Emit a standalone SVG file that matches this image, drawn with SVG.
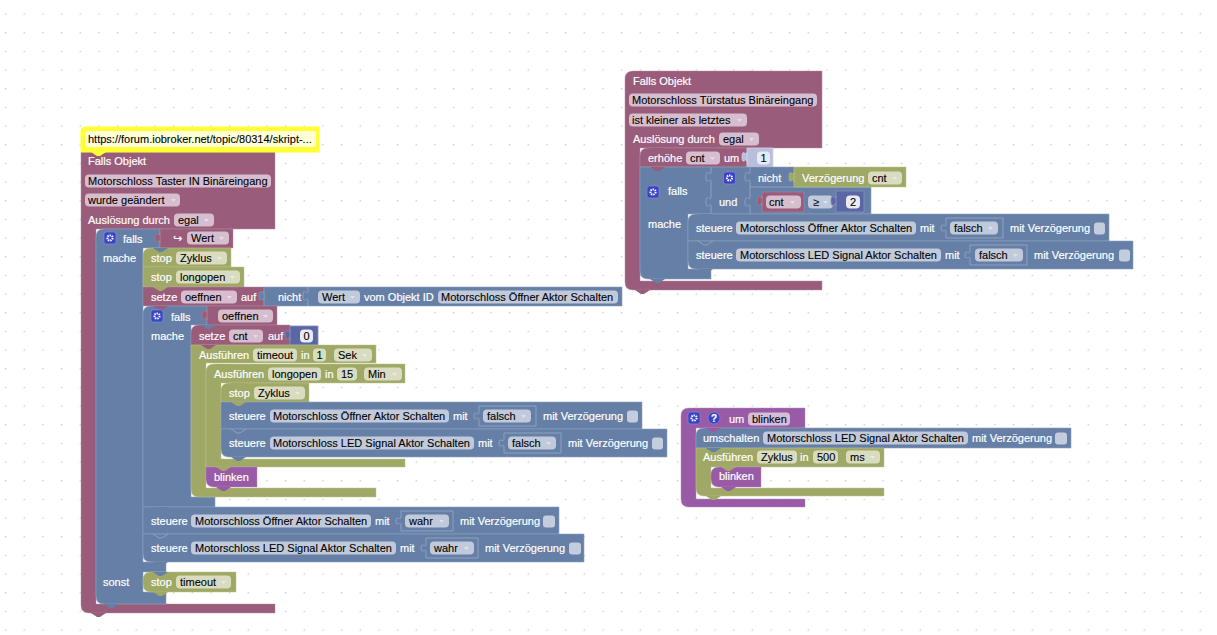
<svg xmlns="http://www.w3.org/2000/svg" width="1217" height="635" viewBox="0 0 1217 635">
<style>
text{font:11px "Liberation Sans",Arial,sans-serif;fill:#fff;stroke:#fff;stroke-width:.18}
.k{fill:#000;stroke:#000;stroke-width:.1}
.pu{fill:#995c7a;stroke:#b38ba0;stroke-width:.8;stroke-opacity:.6}
.bl{fill:#667fa6;stroke:#8ea2c0;stroke-width:.8;stroke-opacity:.75}
.ol{fill:#a0a866;stroke:#bcc28f;stroke-width:.8;stroke-opacity:.6}
.pr{fill:#995ba5;stroke:#b58cbf;stroke-width:.8;stroke-opacity:.6}
.nu{fill:#5b67a5;stroke:#858dbf;stroke-width:.8}
.nl{fill:#b9bfda;stroke:#cfd3e6;stroke-width:.8}
.bp{fill:#995c7a}.bb{fill:#667fa6}.bo{fill:#a0a866}.br{fill:#995ba5}.by{fill:#ffff33}
.fp{fill:#d6bece}.fb{fill:#c0cadb}.fo{fill:#d9dcc0}.fr{fill:#d6bedb}.fw{fill:#feffd6}.fn{fill:#e8ebf5}
.s{fill:none;stroke:#8ea2c0;stroke-width:1}
.d{fill:#fff;fill-opacity:.45}
.c{fill:#c3cddd}
.i{fill:#3b44c4;stroke:#8a90e0;stroke-width:.6}
.g{fill:none;stroke:#fff;stroke-width:2;stroke-dasharray:1.4 .9}
</style>
<defs>
<pattern id="grid" width="18.667" height="18.667" patternUnits="userSpaceOnUse" x="5" y="13.5"><rect width="1.2" height="1.2" fill="#bdbdbd"/></pattern>
<path id="b" d="M0 0l6 4h3l6-4z"/>
<path id="t" d="M0 0c0 6-5-5-5 5s5-2 5 5z"/>
<polygon id="a" points="0,0 5,0 2.5,3" class="d"/>
<g id="ic"><rect width="12" height="12" rx="2.5" class="i"/><circle cx="6" cy="6" r="2.6" class="g"/></g>
</defs>
<rect width="1217" height="635" fill="#fff"/>
<rect width="1217" height="635" fill="url(#grid)"/>

<g id="objekt-taster">
<path class="pu" d="M81 152H275V229H96V604H275V613H89Q81 613 81 605Z"/>
<text x="88" y="165">Falls Objekt</text>
<rect class="fp" x="85" y="174.500" width="186" height="13" rx="4"/><text class="k" x="88" y="185">Motorschloss Taster IN Binäreingang</text>
<rect class="fp" x="85" y="193.500" width="95" height="13" rx="4"/><text class="k" x="88" y="204">wurde geändert</text><use href="#a" x="171" y="199"/>
<text x="88" y="224">Auslösung durch</text>
<rect class="fp" x="174" y="213.500" width="40" height="13" rx="4"/><text class="k" x="178" y="224">egal</text><use href="#a" x="204" y="219"/>
</g>

<g id="kommentar">
<path d="M85 127H319V152H81V131Q81 127 85 127Z" fill="#ffff33" stroke="#ffff33"/>
<use href="#b" x="91" y="152" class="by"/>
<rect class="fw" x="85" y="131" width="231" height="16" rx="3"/>
<text class="k" x="88" y="143">https://forum.iobroker.net/topic/80314/skript-...</text>
</g>

<g id="falls-1">
<path class="bl" d="M104 229H160V248H143V562H166V572H143V592H166V604H104Q96 604 96 596V237Q96 229 104 229Z"/>
<use href="#ic" x="104" y="232"/>
<text x="123" y="243">falls</text><text x="103" y="262">mache</text><text x="103" y="586">sonst</text>
</g>
<g id="wert-1">
<path class="pu" d="M160 229H233V248H160Z"/><use href="#t" x="160" y="233" class="pu"/>
<text x="173" y="242" style="font-family:'DejaVu Sans',sans-serif">↪</text>
<rect class="fp" x="187" y="231.500" width="42" height="13" rx="4"/><text class="k" x="191" y="242">Wert</text><use href="#a" x="219" y="237"/>
</g>
<g id="stop-zyklus-1">
<path class="ol" d="M151 248H231V267H143V256Q143 248 151 248Z"/><use href="#b" x="153" y="248" class="bb"/>
<text x="151" y="262">stop</text><rect class="fo" x="176" y="251.500" width="51" height="13" rx="4"/><text class="k" x="180" y="262">Zyklus</text><use href="#a" x="217" y="257"/>
</g>
<g id="stop-longopen">
<path class="ol" d="M143 267H244V287H143Z"/><use href="#b" x="153" y="267" class="bo"/>
<text x="151" y="281">stop</text><rect class="fo" x="176" y="270.500" width="64" height="13" rx="4"/><text class="k" x="180" y="281">longopen</text><use href="#a" x="230" y="276"/>
</g>
<g id="setze-oeffnen">
<path class="pu" d="M143 287H264V306H143Z"/><use href="#b" x="153" y="287" class="bo"/>
<text x="151" y="301">setze</text><rect class="fp" x="181" y="290.500" width="56" height="13" rx="4"/><text class="k" x="185" y="301">oeffnen</text><use href="#a" x="227" y="296"/>
<text x="241" y="301">auf</text>
</g>
<g id="nicht-wert">
<path class="bl" d="M264 287H622V306H264Z"/><use href="#t" x="264" y="291" class="bl"/>
<text x="278" y="301">nicht</text>
<path class="s" d="M308 287V291c0 6-5-5-5 5s5-2 5 5V306"/>
<rect class="fb" x="318" y="290.500" width="42" height="13" rx="4"/><text class="k" x="322" y="301">Wert</text><use href="#a" x="350" y="296"/>
<text x="364" y="301">vom Objekt ID</text>
<rect class="fb" x="438" y="290.500" width="180" height="13" rx="4"/><text class="k" x="441" y="301">Motorschloss Öffner Aktor Schalten</text>
</g>

<g id="falls-2">
<path class="bl" d="M151 306H207V325H191V497H215V507H143V314Q143 306 151 306Z"/><use href="#b" x="153" y="306" class="bp"/>
<use href="#ic" x="151" y="310"/>
<text x="171" y="321">falls</text><text x="151" y="340">mache</text>
</g>
<g id="wert-oeffnen">
<path class="pu" d="M207 306H277V325H207Z"/><use href="#t" x="207" y="310" class="pu"/>
<rect class="fp" x="218" y="309.500" width="55" height="13" rx="4"/><text class="k" x="222" y="320">oeffnen</text><use href="#a" x="263" y="315"/>
</g>
<g id="setze-cnt">
<path class="pu" d="M199 325H290V345H191V333Q191 325 199 325Z"/><use href="#b" x="201" y="325" class="bb"/>
<text x="199" y="340">setze</text><rect class="fp" x="229" y="329.500" width="34" height="13" rx="4"/><text class="k" x="233" y="340">cnt</text><use href="#a" x="253" y="335"/>
<text x="268" y="340">auf</text>
<path class="nu" d="M290 326H318V345H290Z"/><use href="#t" x="290" y="330" class="nu"/>
<rect class="fn" x="300" y="329.500" width="13" height="13" rx="4"/><text class="k" x="303.500" y="340">0</text>
</g>
<g id="timeout">
<path class="ol" d="M191 345H376V363H206V488H376V497H199Q191 497 191 489Z"/><use href="#b" x="201" y="345" class="bp"/>
<text x="199" y="359">Ausführen</text>
<rect class="fo" x="253" y="348.500" width="44" height="13" rx="4"/><text class="k" x="257" y="359">timeout</text>
<text x="301" y="359">in</text>
<rect class="fo" x="313" y="348.500" width="13" height="13" rx="4"/><text class="k" x="316.500" y="359">1</text>
<rect class="fo" x="334" y="348.500" width="38" height="13" rx="4"/><text class="k" x="338" y="359">Sek</text><use href="#a" x="362" y="354"/>
</g>
<g id="longopen">
<path class="ol" d="M214 364H405V383H221V459H405V467H206V372Q206 364 214 364Z"/><use href="#b" x="216" y="364" class="bo"/>
<text x="214" y="378">Ausführen</text>
<rect class="fo" x="268" y="367.500" width="53" height="13" rx="4"/><text class="k" x="272" y="378">longopen</text>
<text x="325" y="378">in</text>
<rect class="fo" x="337" y="367.500" width="20" height="13" rx="4"/><text class="k" x="341" y="378">15</text>
<rect class="fo" x="364" y="367.500" width="38" height="13" rx="4"/><text class="k" x="368" y="378">Min</text><use href="#a" x="392" y="373"/>
</g>
<g id="stop-zyklus-2">
<path class="ol" d="M229 383H309V402H221V391Q221 383 229 383Z"/><use href="#b" x="231" y="383" class="bo"/>
<text x="229" y="397">stop</text><rect class="fo" x="254" y="386.500" width="51" height="13" rx="4"/><text class="k" x="258" y="397">Zyklus</text><use href="#a" x="295" y="392"/>
</g>
<g id="steuere-oeffner-falsch-1">
<path class="bl" d="M221 402H642V429H221Z"/><use href="#b" x="231" y="402" class="bo"/>
<text x="229" y="420">steuere</text>
<rect class="fb" x="270" y="409.500" width="179" height="13" rx="4"/><text class="k" x="273" y="420">Motorschloss Öffner Aktor Schalten</text>
<text x="453" y="420">mit</text>
<path class="s" d="M479 406H536V426H479V420c0-5-5 3-5-4s5 1 5-4Z"/>
<rect class="fb" x="483" y="409.500" width="48" height="13" rx="4"/><text class="k" x="487" y="420">falsch</text><use href="#a" x="521" y="415"/>
<text x="543" y="420">mit Verzögerung</text>
<rect class="c" x="627" y="410.500" width="11" height="12" rx="3"/>
</g>
<g id="steuere-led-falsch-1">
<path class="bl" d="M221 429H667V457H229Q221 457 221 449Z"/><use href="#b" x="231" y="457" class="bb"/>
<path class="s" d="M231 429l6 4h3l6-4"/>
<text x="229" y="447">steuere</text>
<rect class="fb" x="270" y="436.500" width="204" height="13" rx="4"/><text class="k" x="273" y="447">Motorschloss LED Signal Aktor Schalten</text>
<text x="478" y="447">mit</text>
<path class="s" d="M504 433H561V453H504V447c0-5-5 3-5-4s5 1 5-4Z"/>
<rect class="fb" x="508" y="436.500" width="48" height="13" rx="4"/><text class="k" x="512" y="447">falsch</text><use href="#a" x="546" y="442"/>
<text x="568" y="447">mit Verzögerung</text>
<rect class="c" x="652" y="437.500" width="11" height="12" rx="3"/>
</g>
<g id="blinken-1">
<path class="pr" d="M206 467H257V487H214Q206 487 206 479Z"/><use href="#b" x="216" y="467" class="bo"/><use href="#b" x="216" y="487" class="br"/>
<text x="214" y="481">blinken</text>
</g>
<g id="steuere-oeffner-wahr">
<path class="bl" d="M143 507H559V534H143Z"/><use href="#b" x="153" y="507" class="bb"/>
<text x="151" y="525">steuere</text>
<rect class="fb" x="191" y="514.500" width="180" height="13" rx="4"/><text class="k" x="195" y="525">Motorschloss Öffner Aktor Schalten</text>
<text x="375" y="525">mit</text>
<path class="s" d="M401 511H453V531H401V525c0-5-5 3-5-4s5 1 5-4Z"/>
<rect class="fb" x="405" y="514.500" width="44" height="13" rx="4"/><text class="k" x="409" y="525">wahr</text><use href="#a" x="439" y="520"/>
<text x="460" y="525">mit Verzögerung</text>
<rect class="c" x="543" y="515.500" width="12" height="12" rx="3"/>
</g>
<g id="steuere-led-wahr">
<path class="bl" d="M143 534H584V562H151Q143 562 143 554Z"/><use href="#b" x="153" y="562" class="bb"/>
<path class="s" d="M153 534l6 4h3l6-4"/>
<text x="151" y="552">steuere</text>
<rect class="fb" x="191" y="541.500" width="205" height="13" rx="4"/><text class="k" x="195" y="552">Motorschloss LED Signal Aktor Schalten</text>
<text x="400" y="552">mit</text>
<path class="s" d="M426 538H478V558H426V552c0-5-5 3-5-4s5 1 5-4Z"/>
<rect class="fb" x="430" y="541.500" width="44" height="13" rx="4"/><text class="k" x="434" y="552">wahr</text><use href="#a" x="464" y="547"/>
<text x="485" y="552">mit Verzögerung</text>
<rect class="c" x="569" y="542.500" width="12" height="12" rx="3"/>
</g>
<g id="stop-timeout">
<path class="ol" d="M151 572H236V592H151Q143 592 143 584V580Q143 572 151 572Z"/><use href="#b" x="153" y="572" class="bb"/><use href="#b" x="153" y="592" class="bo"/>
<text x="151" y="586">stop</text><rect class="fo" x="176" y="575.500" width="55" height="13" rx="4"/><text class="k" x="180" y="586">timeout</text><use href="#a" x="221" y="581"/>
</g>
<use href="#b" x="104" y="604" class="bb"/>
<use href="#b" x="91" y="613" class="bp"/>

<g id="objekt-tuerstatus">
<path class="pu" d="M633 71H822V148H640V281H822V290H633Q625 290 625 282V79Q625 71 633 71Z"/>
<use href="#b" x="635" y="290" class="bp"/>
<text x="633" y="85">Falls Objekt</text>
<rect class="fp" x="629" y="93.500" width="188" height="13" rx="4"/><text class="k" x="632" y="104">Motorschloss Türstatus Binäreingang</text>
<rect class="fp" x="629" y="113.500" width="118" height="13" rx="4"/><text class="k" x="632" y="124">ist kleiner als letztes</text><use href="#a" x="737" y="119"/>
<text x="633" y="143">Auslösung durch</text>
<rect class="fp" x="719" y="132.500" width="40" height="13" rx="4"/><text class="k" x="723" y="143">egal</text><use href="#a" x="749" y="138"/>
</g>
<g id="erhoehe-cnt">
<path class="pu" d="M648 148H747V167H640V156Q640 148 648 148Z"/><use href="#b" x="650" y="148" class="bp"/>
<text x="648" y="162">erhöhe</text><rect class="fp" x="686" y="151.500" width="34" height="13" rx="4"/><text class="k" x="690" y="162">cnt</text><use href="#a" x="710" y="157"/>
<text x="724" y="162">um</text>
<path class="nl" d="M747 148H773V167H747Z"/><use href="#t" x="747" y="152" class="nl"/>
<rect class="fn" x="757" y="151.500" width="13" height="13" rx="4"/><text class="k" x="760.500" y="162">1</text>
</g>
<g id="falls-3">
<path class="bl" d="M640 167H794V187H871V214H688V269H711V279H648Q640 279 640 271Z"/><use href="#b" x="650" y="167" class="bp"/>
<use href="#ic" x="647" y="186"/>
<text x="668" y="195">falls</text><text x="648" y="228">mache</text>
<path class="s" d="M711 167V172c0 6-5-5-5 5s5-2 5 5V197c0 6-5-5-5 5s5-2 5 5V214"/>
<path class="s" d="M750 167V172c0 6-5-5-5 5s5-2 5 5V197c0 6-5-5-5 5s5-2 5 5V214M750 187H871"/>
<use href="#ic" x="723.500" y="172"/>
<text x="719" y="206">und</text>
<text x="758" y="182">nicht</text>
</g>
<g id="verzoegerung">
<path class="ol" d="M794 167H906V187H794Z"/><use href="#t" x="794" y="172" class="ol"/>
<text x="802" y="182">Verzögerung</text><rect class="fo" x="868" y="171.500" width="34" height="13" rx="4"/><text class="k" x="872" y="182">cnt</text><use href="#a" x="892" y="177"/>
</g>
<g id="vergleich">
<path class="pu" d="M762 192H804V212H762Z"/><use href="#t" x="762" y="196" class="pu"/>
<rect class="fp" x="766" y="195.500" width="35" height="13" rx="4"/><text class="k" x="769" y="206">cnt</text><use href="#a" x="790" y="201"/>
<rect class="fb" x="808" y="195.500" width="25" height="13" rx="4"/><text class="k" x="813" y="206">≥</text><use href="#a" x="823" y="201"/>
<path class="nu" d="M836 191H864V212H836Z"/><use href="#t" x="836" y="196" class="nu"/>
<rect class="fn" x="846" y="195.500" width="14" height="13" rx="4"/><text class="k" x="850" y="206">2</text>
</g>
<g id="steuere-oeffner-falsch-2">
<path class="bl" d="M696 214H1109V241H688V222Q688 214 696 214Z"/><use href="#b" x="698" y="214" class="bb"/>
<text x="696" y="232">steuere</text>
<rect class="fb" x="736" y="221.500" width="180" height="13" rx="4"/><text class="k" x="740" y="232">Motorschloss Öffner Aktor Schalten</text>
<text x="920" y="232">mit</text>
<path class="s" d="M946 218H1003V238H946V232c0-5-5 3-5-4s5 1 5-4Z"/>
<rect class="fb" x="950" y="221.500" width="48" height="13" rx="4"/><text class="k" x="954" y="232">falsch</text><use href="#a" x="988" y="227"/>
<text x="1010" y="232">mit Verzögerung</text>
<rect class="c" x="1094" y="222.500" width="11" height="12" rx="3"/>
</g>
<g id="steuere-led-falsch-2">
<path class="bl" d="M688 241H1133V269H696Q688 269 688 261Z"/><use href="#b" x="698" y="269" class="bb"/>
<path class="s" d="M698 241l6 4h3l6-4"/>
<text x="696" y="259">steuere</text>
<rect class="fb" x="736" y="248.500" width="205" height="13" rx="4"/><text class="k" x="740" y="259">Motorschloss LED Signal Aktor Schalten</text>
<text x="945" y="259">mit</text>
<path class="s" d="M970 245H1027V265H970V259c0-5-5 3-5-4s5 1 5-4Z"/>
<rect class="fb" x="975" y="248.500" width="48" height="13" rx="4"/><text class="k" x="979" y="259">falsch</text><use href="#a" x="1013" y="254"/>
<text x="1034" y="259">mit Verzögerung</text>
<rect class="c" x="1119" y="249.500" width="11" height="12" rx="3"/>
</g>
<use href="#b" x="650" y="279" class="bb"/>

<g id="prozedur-blinken">
<path class="pr" d="M689 408H805V428H696V499H805V507H689Q681 507 681 499V416Q681 408 689 408Z"/>
<use href="#ic" x="688" y="412"/>
<circle cx="714" cy="418" r="6" class="i"/><text x="711" y="422" style="font-weight:bold;font-size:10px">?</text>
<text x="729" y="423">um</text>
<rect class="fr" x="748" y="412.500" width="42" height="13" rx="4"/><text class="k" x="752" y="423">blinken</text>
</g>
<g id="umschalten">
<path class="bl" d="M704 428H1071V448H696V436Q696 428 704 428Z"/><use href="#b" x="706" y="428" class="br"/>
<text x="703" y="442">umschalten</text>
<rect class="fb" x="763" y="431.500" width="205" height="13" rx="4"/><text class="k" x="767" y="442">Motorschloss LED Signal Aktor Schalten</text>
<text x="972" y="442">mit Verzögerung</text>
<rect class="c" x="1055" y="432.500" width="12" height="12" rx="3"/>
</g>
<g id="zyklus">
<path class="ol" d="M696 448H884V467H711V488H884V496H704Q696 496 696 488Z"/><use href="#b" x="706" y="448" class="bb"/><use href="#b" x="706" y="496" class="bo"/>
<text x="703" y="461">Ausführen</text>
<rect class="fo" x="757" y="450.500" width="40" height="13" rx="4"/><text class="k" x="761" y="461">Zyklus</text>
<text x="800" y="461">in</text>
<rect class="fo" x="813" y="450.500" width="25" height="13" rx="4"/><text class="k" x="817" y="461">500</text>
<rect class="fo" x="846" y="450.500" width="34" height="13" rx="4"/><text class="k" x="850" y="461">ms</text><use href="#a" x="870" y="456"/>
</g>
<g id="blinken-2">
<path class="pr" d="M719 467H761V487H719Q711 487 711 479V475Q711 467 719 467Z"/><use href="#b" x="721" y="467" class="bo"/><use href="#b" x="721" y="487" class="br"/>
<text x="719" y="480">blinken</text>
</g>
</svg>
